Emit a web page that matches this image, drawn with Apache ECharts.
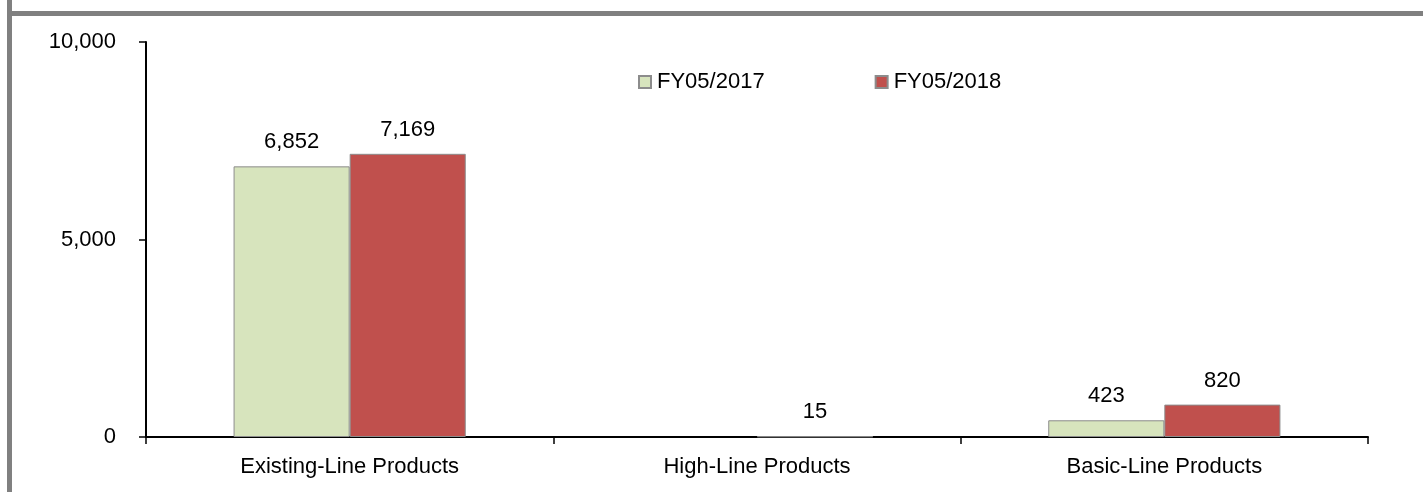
<!DOCTYPE html>
<html>
<head>
<meta charset="utf-8">
<script src="https://cdn.jsdelivr.net/npm/echarts@6/dist/echarts.min.js"></script>
<style>
  html, body { margin: 0; padding: 0; background: #fff; }
  #chart { width: 1423px; height: 492px; }
</style>
</head>
<body>
<div id="chart"></div>
<script>
// Product ranges on the category axis
const categories = ['Existing-Line Products', 'High-Line Products', 'Basic-Line Products'];
// Sales by fiscal year (null = no sales that year)
const fy2017 = [6852, null, 423];
const fy2018 = [7169, 15, 820];
const seriesNames = ['FY05/2017', 'FY05/2018'];
// Value axis ticks
const yTicks = [0, 5000, 10000];

const chart = echarts.init(document.getElementById('chart'), null, { renderer: 'canvas' });

const font = 'Arial, "Liberation Sans", sans-serif';
const fmt = v => v.toLocaleString('en-US');

const labelCfg = {
  show: true,
  position: 'top',
  distance: 13,
  color: '#000',
  fontFamily: font,
  fontSize: 22,
  formatter: p => (p.value == null ? '' : fmt(p.value))
};

chart.setOption({
  animation: false,
  backgroundColor: '#fff',
  graphic: [
    // frame strips along the left and top
    { type: 'rect', shape: { x: 7, y: 0, width: 5, height: 492 }, style: { fill: '#808080' }, silent: true },
    { type: 'rect', shape: { x: 12, y: 11, width: 1411, height: 5 }, style: { fill: '#808080' }, silent: true }
  ],
  legend: {
    top: 66,
    left: 633,
    itemGap: 110,
    itemWidth: 12,
    itemHeight: 12,
    icon: 'rect',
    textStyle: { color: '#000', fontFamily: font, fontSize: 22, padding: [0, 0, 0, 1] },
    data: seriesNames
  },
  grid: { left: 146, right: 55, top: 42, bottom: 55, containLabel: false },
  xAxis: {
    type: 'category',
    data: categories,
    axisLine: { lineStyle: { color: '#000', width: 2 } },
    axisTick: { show: true, length: 7, lineStyle: { color: '#000', width: 1.5 } },
    axisLabel: { color: '#000', fontFamily: font, fontSize: 22, margin: 19 }
  },
  yAxis: {
    type: 'value',
    min: yTicks[0],
    max: yTicks[yTicks.length - 1],
    interval: yTicks[1] - yTicks[0],
    splitLine: { show: false },
    axisLine: { show: true, lineStyle: { color: '#000', width: 2 } },
    axisTick: { show: true, length: 7, lineStyle: { color: '#000', width: 1.5 } },
    axisLabel: { color: '#000', fontFamily: font, fontSize: 22, margin: 30, formatter: v => fmt(v) }
  },
  series: [
    {
      name: seriesNames[0],
      type: 'bar',
      data: fy2017,
      barGap: '0%',
      barCategoryGap: '43%',
      itemStyle: { color: '#D7E4BD', borderColor: '#8C8C8C', borderWidth: 1 },
      label: labelCfg
    },
    {
      name: seriesNames[1],
      type: 'bar',
      data: fy2018,
      barGap: '0%',
      barCategoryGap: '43%',
      itemStyle: { color: '#C0504D', borderColor: '#8C8C8C', borderWidth: 1 },
      label: labelCfg
    }
  ]
});
</script>
</body>
</html>
